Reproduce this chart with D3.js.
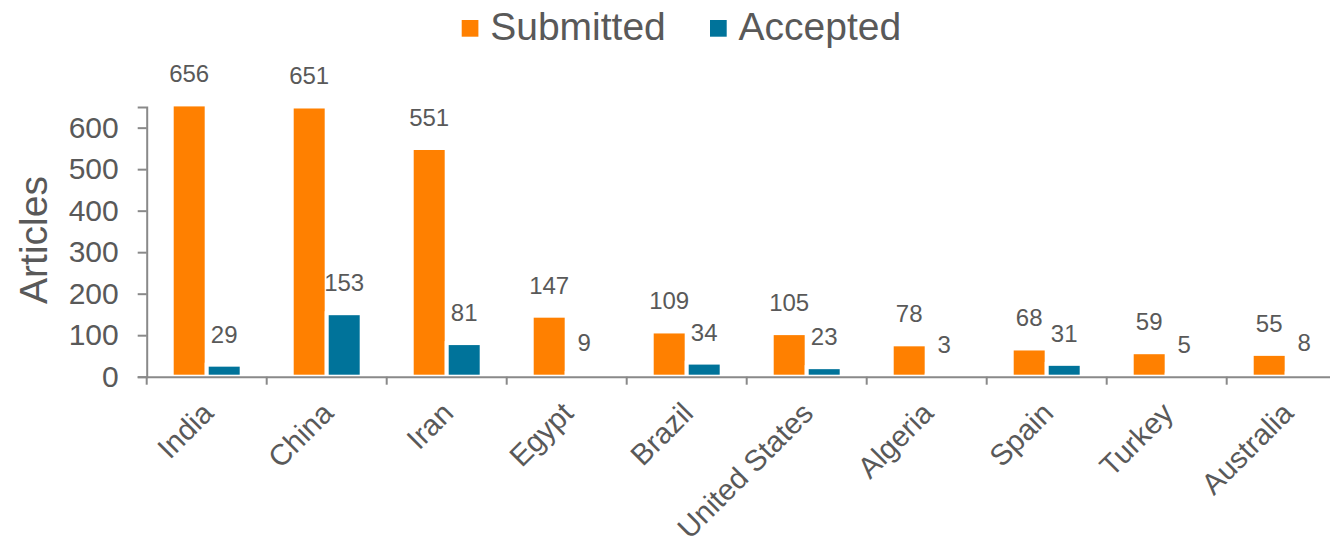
<!DOCTYPE html>
<html>
<head>
<meta charset="utf-8">
<script src="https://cdn.jsdelivr.net/npm/d3@7"></script>
<style>
  html, body { margin: 0; padding: 0; background: #fff; }
  svg { display: block; font-family: "Liberation Sans", Arial, sans-serif; }
</style>
</head>
<body>
<svg id="chart" width="1330" height="549"></svg>
<script>
'use strict';

var countries = ['India', 'China', 'Iran', 'Egypt', 'Brazil', 'United States', 'Algeria', 'Spain', 'Turkey', 'Australia'];
var submitted = [656, 651, 551, 147, 109, 105, 78, 68, 59, 55];
var accepted = [29, 153, 81, 9, 34, 23, 3, 31, 5, 8];
var seriesNames = ['Submitted', 'Accepted'];
var seriesColors = ['#ff8000', '#00739a'];
var yTicks = [0, 100, 200, 300, 400, 500, 600];

var textColor = '#595959';
var axisColor = '#898989';

var svg = d3.select('#chart');

// plot area: left edge of first band 146.7, bands are 120 wide (last one runs off the right side)
var x0 = d3.scaleBand().domain(countries).range([146.7, 146.7 + 120 * countries.length]);
var x1 = d3.scaleBand().domain(seriesNames).range([25, 95]);
var y = d3.scaleLinear().domain([0, 650]).range([376.7, 106.9]);

var rows = countries.map(function (c, i) {
  return { country: c, values: [submitted[i], accepted[i]] };
});

// bars (white outline eats ~2px on each side, so tiny values vanish like in the original)
var groups = svg.append('g').selectAll('g')
  .data(rows)
  .enter().append('g')
  .attr('transform', function (d) { return 'translate(' + x0(d.country) + ',0)'; });

groups.selectAll('rect')
  .data(function (d) { return d.values.map(function (v, k) { return { key: seriesNames[k], v: v, k: k }; }); })
  .enter().append('rect')
  .attr('x', function (d) { return x1(d.key); })
  .attr('width', x1.bandwidth())
  .attr('y', function (d) { return y(d.v); })
  .attr('height', function (d) { return y(0) - y(d.v); })
  .attr('fill', function (d) { return seriesColors[d.k]; })
  .attr('stroke', '#fff')
  .attr('stroke-width', 4);

// value labels
groups.selectAll('text')
  .data(function (d) { return d.values.map(function (v, k) { return { key: seriesNames[k], v: v }; }); })
  .enter().append('text')
  .attr('x', function (d) { return x1(d.key) + x1.bandwidth() / 2; })
  .attr('y', function (d) { return y(d.v) - 22; })
  .attr('text-anchor', 'middle')
  .attr('font-size', 24)
  .attr('fill', textColor)
  .text(function (d) { return d.v; });

// y axis
var yAxis = svg.append('g')
  .attr('transform', 'translate(146.7,0)')
  .call(d3.axisLeft(y).tickValues(yTicks).tickSizeOuter(0).tickSize(9).tickPadding(19));

// x axis
var xAxis = svg.append('g')
  .attr('transform', 'translate(0,' + y(0) + ')')
  .call(d3.axisBottom(x0).tickSize(0).tickSizeOuter(0).tickFormat(''));

xAxis.selectAll('.xt')
  .data(countries.concat(['']))
  .enter().append('line')
  .attr('class', 'xt')
  .attr('x1', function (d, i) { return x0.range()[0] + i * x0.step(); })
  .attr('x2', function (d, i) { return x0.range()[0] + i * x0.step(); })
  .attr('y1', 0)
  .attr('y2', 8);

svg.selectAll('.domain, .tick line, .xt')
  .attr('stroke', axisColor)
  .attr('stroke-width', 2);

yAxis.selectAll('.tick text')
  .attr('font-size', 30)
  .attr('font-family', '"Liberation Sans", Arial, sans-serif')
  .attr('fill', textColor);

// rotated category labels
svg.append('g').selectAll('text')
  .data(countries)
  .enter().append('text')
  .attr('transform', function (d) {
    return 'translate(' + (x0(d) + x0.bandwidth() / 2 + 1) + ',' + (y(0) + 31) + ') rotate(-45)';
  })
  .attr('text-anchor', 'end')
  .attr('dy', '0.35em')
  .attr('font-size', 29.5)
  .attr('fill', textColor)
  .text(function (d) { return d; });

// axis title
svg.append('text')
  .attr('transform', 'translate(47,240) rotate(-90)')
  .attr('text-anchor', 'middle')
  .attr('font-size', 39)
  .attr('fill', textColor)
  .text('Articles');

// legend
var legendX = [461.7, 710];
var legend = svg.append('g').selectAll('g')
  .data(seriesNames)
  .enter().append('g')
  .attr('transform', function (d, i) { return 'translate(' + legendX[i] + ',0)'; });

legend.append('rect')
  .attr('y', 20)
  .attr('width', 16.7)
  .attr('height', 16.7)
  .attr('fill', function (d, i) { return seriesColors[i]; });

legend.append('text')
  .attr('x', 28.5)
  .attr('y', 40)
  .attr('font-size', 39)
  .attr('fill', textColor)
  .text(function (d) { return d; });
</script>
</body>
</html>
